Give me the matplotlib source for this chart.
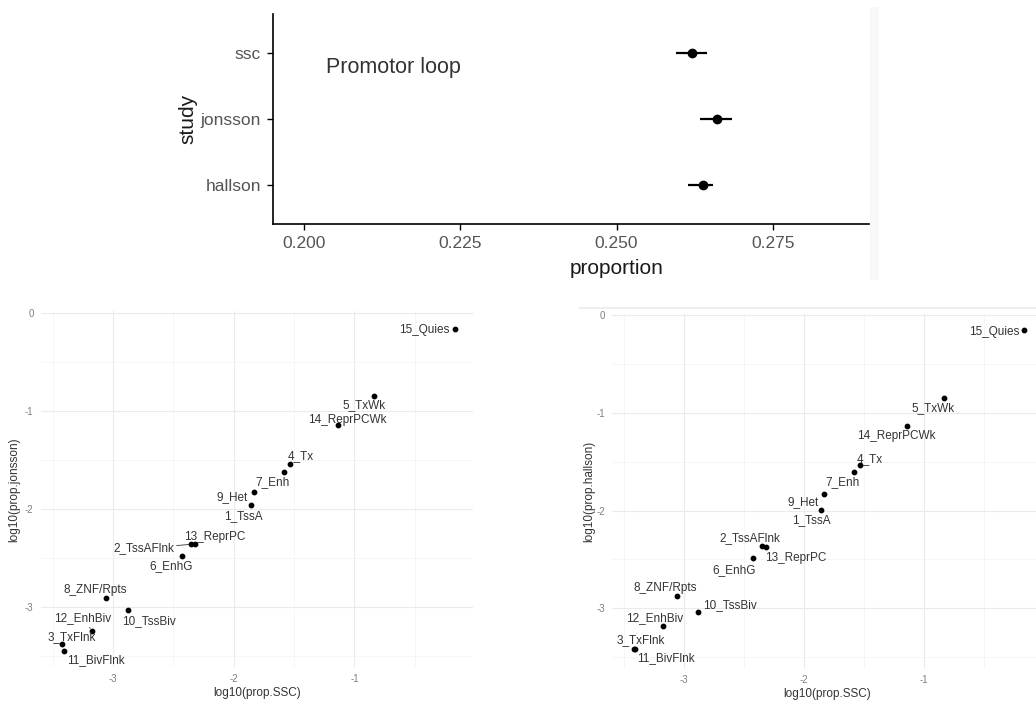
"""
Promotor loop proportions per study, plus log10 state proportions vs SSC.
"""

import matplotlib
matplotlib.use("Agg")
import matplotlib.pyplot as plt
from matplotlib.patches import Rectangle
from matplotlib.lines import Line2D

plt.rcParams['font.family'] = ['Liberation Sans', 'DejaVu Sans']

# ---- top panel data ----
studies = ['hallson', 'jonsson', 'ssc']
prop_mean = [0.2638, 0.2660, 0.2620]
prop_low = [0.2615, 0.2633, 0.2595]
prop_high = [0.2655, 0.2684, 0.2645]

# ---- scatter data (log10 proportions) ----
states = ['1_TssA', '2_TssAFlnk', '3_TxFlnk', '4_Tx', '5_TxWk', '6_EnhG', '7_Enh',
          '8_ZNF/Rpts', '9_Het', '10_TssBiv', '11_BivFlnk', '12_EnhBiv',
          '13_ReprPC', '14_ReprPCWk', '15_Quies']
log_ssc = [-1.86, -2.35, -3.42, -1.53, -0.835, -2.425, -1.585,
           -3.055, -1.835, -2.88, -3.41, -3.175, -2.32, -1.14, -0.17]
log_jonsson = [-1.96, -2.36, -3.38, -1.54, -0.85, -2.48, -1.62,
               -2.91, -1.83, -3.03, -3.45, -3.24, -2.36, -1.14, -0.16]
log_hallson = [-1.99, -2.36, -3.42, -1.53, -0.854, -2.48, -1.61,
               -2.87, -1.83, -3.04, -3.42, -3.18, -2.37, -1.14, -0.15]

# label placement (pixels: right, down) and whether a repel segment is drawn
offsets_jonsson = [(-7, 11, 0), (-48, 4, 1), (9, -7, 0), (10, -8, 0), (-10, 9, 0),
                   (-11, 10, 0), (-11, 10, 0), (-11, -8, 0), (-22, 5, 0), (21, 11, 0),
                   (32, 9, 0), (-9, -12, 1), (20, -7, 0), (10, -5, 0), (-30, 1, 0)]
offsets_hallson = [(-9, 10, 0), (-12, -8, 0), (7, -9, 0), (9, -6, 0), (-11, 10, 0),
                   (-19, 13, 0), (-11, 10, 0), (-12, -8, 0), (-21, 8, 0), (32, -7, 0),
                   (31, 9, 0), (-8, -8, 0), (30, 11, 0), (-11, 10, 0), (-29, 2, 0)]

W, H = 1036, 703
fig = plt.figure(figsize=(W / 100, H / 100), dpi=100)

# ---------------- top: pointrange ----------------
ax = fig.add_axes([273 / W, 1 - 224 / H, 596 / W, 210 / H])
ypos = list(range(1, len(studies) + 1))
ax.hlines(ypos, prop_low, prop_high, color='black', linewidth=1.6)
ax.plot(prop_mean, ypos, 'o', color='black', markersize=6)
ax.set_xlim(0.19503, 0.2904)
ax.set_ylim(0.4, 3.6)
ax.set_xticks([0.200, 0.225, 0.250, 0.275])
ax.set_xticklabels(['0.200', '0.225', '0.250', '0.275'])
ax.set_yticks(ypos)
ax.set_yticklabels(studies)
ax.tick_params(labelsize=12.5, labelcolor='#555555', length=4.5, width=1, pad=4)
for side in ['top', 'right']:
    ax.spines[side].set_visible(False)
for side in ['left', 'bottom']:
    ax.spines[side].set_linewidth(1.2)
ax.set_xlabel('proportion', fontsize=15, color='#1a1a1a')
ax.xaxis.set_label_coords(0.577, -0.165)
ax.set_ylabel('study', fontsize=15, color='#1a1a1a')
ax.yaxis.set_label_coords(-0.127, 0.5)
ax.text(0.2035, 2.79, 'Promotor loop', fontsize=15.5, color='#333333', va='center', ha='left')
# faint edges of the pasted panels
fig.patches.append(Rectangle((870 / W, 1 - 280 / H), 9 / W, 273 / H, transform=fig.transFigure,
                             facecolor='#f8f8f8', edgecolor='none'))
fig.lines.append(Line2D([580 / W, 1], [1 - 308 / H, 1 - 308 / H], transform=fig.transFigure,
                        color='#eeeeee', linewidth=1.5))


# ---------------- bottom: labelled scatters ----------------
def scatter_panel(rect, yvals, offsets, ylabel, ylab_x):
    a = fig.add_axes(rect)
    a.set_xlim(-3.60, -0.02)
    a.set_ylim(-3.615, 0.015)
    a.set_xticks([-3, -2, -1])
    a.set_xticks([-3.5, -2.5, -1.5, -0.5], minor=True)
    a.set_yticks([-3, -2, -1, 0])
    a.set_yticks([-3.5, -2.5, -1.5, -0.5], minor=True)
    a.set_xticklabels(['-3', '-2', '-1'])
    a.set_yticklabels(['-3', '-2', '-1', '0'])
    a.grid(which='major', color='#ebebeb', linewidth=0.8)
    a.grid(which='minor', color='#f3f3f3', linewidth=0.5)
    a.set_axisbelow(True)
    a.tick_params(which='both', length=0, labelsize=7, labelcolor='#7f7f7f', pad=5)
    for s in a.spines.values():
        s.set_visible(False)
    a.scatter(log_ssc, yvals, s=10, color='black', zorder=3)
    for name, x, y, (dx, dy, seg) in zip(states, log_ssc, yvals, offsets):
        props = dict(arrowstyle='-', color='#333333', linewidth=0.6, shrinkA=0, shrinkB=2) if seg else None
        a.annotate(name, (x, y), xytext=(dx, -dy), textcoords='offset pixels',
                   ha='center', va='center', fontsize=8.5, color='#333333',
                   arrowprops=props, zorder=4)
    a.set_xlabel('log10(prop.SSC)', fontsize=8.5, color='#333333')
    a.xaxis.set_label_coords(0.5, -0.055)
    a.set_ylabel(ylabel, fontsize=8.5, color='#333333')
    a.yaxis.set_label_coords(ylab_x, 0.5)
    return a


scatter_panel([40.6 / W, 1 - 667.3 / H, 432.1 / W, 355.8 / H], log_jonsson, offsets_jonsson,
              'log10(prop.jonsson)', -0.048)
scatter_panel([612 / W, 1 - 668.5 / H, 429.6 / W, 355 / H], log_hallson, offsets_hallson,
              'log10(prop.hallson)', -0.04)

plt.savefig('out.png', dpi=100)
